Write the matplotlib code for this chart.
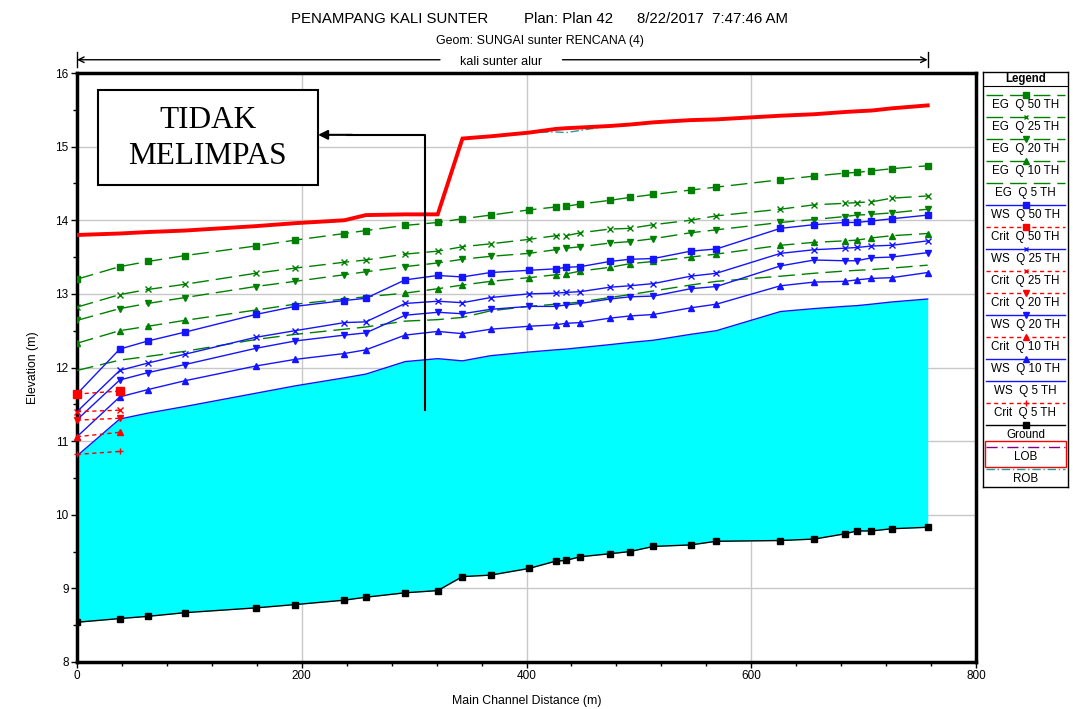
import numpy as np
import matplotlib
matplotlib.use('Agg')
import matplotlib.pyplot as plt
from matplotlib.patches import Rectangle

plt.rcParams['font.family'] = ['Liberation Sans', 'DejaVu Sans']

# main channel distance of each cross section (m)
station = [0, 38, 63, 96, 159, 194, 238, 257, 292, 321, 343, 368, 402, 426,
           435, 448, 474, 492, 513, 546, 569, 626, 656, 683, 694, 707, 725, 757]

ground = [8.54, 8.59, 8.62, 8.67, 8.735, 8.78, 8.84, 8.88, 8.94, 8.97, 9.16, 9.18,
          9.27, 9.37, 9.38, 9.43, 9.47, 9.50, 9.57, 9.59, 9.64, 9.65, 9.67, 9.74,
          9.78, 9.78, 9.81, 9.83]

ws_q5 = [10.80, 11.30, 11.38, 11.47, 11.65, 11.75, 11.86, 11.91, 12.08, 12.12, 12.09,
         12.16, 12.21, 12.24, 12.25, 12.27, 12.31, 12.34, 12.37, 12.45, 12.50, 12.76,
         12.80, 12.83, 12.84, 12.86, 12.89, 12.93]
ws_q10 = [11.06, 11.60, 11.70, 11.82, 12.02, 12.11, 12.19, 12.24, 12.44, 12.49, 12.46,
          12.52, 12.56, 12.58, 12.60, 12.61, 12.67, 12.70, 12.72, 12.81, 12.86, 13.11,
          13.16, 13.17, 13.19, 13.21, 13.22, 13.29]
ws_q20 = [11.29, 11.83, 11.93, 12.04, 12.26, 12.36, 12.44, 12.47, 12.71, 12.75, 12.73,
          12.79, 12.83, 12.83, 12.85, 12.87, 12.93, 12.96, 12.97, 13.07, 13.10, 13.38,
          13.46, 13.45, 13.45, 13.49, 13.50, 13.56]
ws_q25 = [11.40, 11.96, 12.06, 12.18, 12.41, 12.50, 12.61, 12.62, 12.87, 12.90, 12.88,
          12.95, 13.00, 13.01, 13.02, 13.03, 13.09, 13.11, 13.14, 13.24, 13.28, 13.55,
          13.60, 13.62, 13.63, 13.65, 13.66, 13.72]
ws_q50 = [11.64, 12.25, 12.36, 12.48, 12.72, 12.83, 12.91, 12.94, 13.19, 13.25, 13.23,
          13.29, 13.32, 13.34, 13.36, 13.37, 13.44, 13.47, 13.48, 13.58, 13.61, 13.89,
          13.94, 13.97, 13.97, 13.99, 14.02, 14.07]

eg_q5 = [11.96, 12.10, 12.15, 12.22, 12.38, 12.45, 12.52, 12.55, 12.63, 12.65, 12.68,
         12.77, 12.83, 12.86, 12.87, 12.89, 12.95, 12.99, 13.04, 13.12, 13.17, 13.24,
         13.28, 13.31, 13.32, 13.33, 13.35, 13.39]
eg_q10 = [12.33, 12.50, 12.56, 12.64, 12.78, 12.86, 12.93, 12.96, 13.01, 13.07, 13.12,
          13.17, 13.22, 13.26, 13.27, 13.31, 13.36, 13.41, 13.44, 13.50, 13.54, 13.66,
          13.70, 13.72, 13.73, 13.76, 13.79, 13.82]
eg_q20 = [12.64, 12.80, 12.87, 12.95, 13.10, 13.17, 13.26, 13.30, 13.37, 13.42, 13.47,
          13.51, 13.55, 13.60, 13.62, 13.64, 13.69, 13.71, 13.75, 13.83, 13.87, 13.97,
          14.01, 14.05, 14.07, 14.08, 14.10, 14.15]
eg_q25 = [12.82, 12.99, 13.06, 13.13, 13.28, 13.35, 13.43, 13.46, 13.54, 13.58, 13.64,
          13.68, 13.74, 13.79, 13.79, 13.83, 13.88, 13.89, 13.94, 14.00, 14.06, 14.15,
          14.21, 14.23, 14.24, 14.25, 14.30, 14.33]
eg_q50 = [13.20, 13.37, 13.44, 13.52, 13.65, 13.73, 13.82, 13.86, 13.93, 13.97, 14.02,
          14.07, 14.14, 14.18, 14.19, 14.22, 14.27, 14.31, 14.35, 14.41, 14.45, 14.55,
          14.60, 14.64, 14.65, 14.67, 14.70, 14.74]

lob = [13.80, 13.82, 13.84, 13.86, 13.92, 13.96, 14.00, 14.07, 14.08, 14.08, 15.11,
       15.14, 15.19, 15.24, 15.25, 15.26, 15.28, 15.30, 15.33, 15.36, 15.37, 15.42,
       15.44, 15.47, 15.48, 15.49, 15.52, 15.56]
rob = [13.80, 13.82, 13.84, 13.86, 13.92, 13.96, 14.00, 14.07, 14.08, 14.08, 15.11,
       15.14, 15.19, 15.20, 15.19, 15.22, 15.28, 15.30, 15.33, 15.36, 15.37, 15.42,
       15.44, 15.47, 15.48, 15.49, 15.52, 15.56]

# critical depth only computed at the two downstream sections
crit_station = [0, 38]
crit_q50 = [11.64, 11.68]
crit_q25 = [11.40, 11.42]
crit_q20 = [11.285, 11.31]
crit_q10 = [11.06, 11.12]
crit_q5 = [10.82, 10.86]

GREEN = '#008000'
BLUE = '#1414ff'
RED = '#ff0000'
EGDASH = (12, 5)

fig = plt.figure(figsize=(10.73, 7.09), dpi=100)
ax = fig.add_axes([77/1073, 1-662/709, (976-77)/1073, (662-73)/709])

ax.fill_between(station, ground, ws_q5, color='#00ffff', lw=0, zorder=1)

ax.plot(station, ground, color='black', lw=1, marker='s', ms=5, zorder=5)
ax.plot(station, ws_q5, color=BLUE, lw=1, zorder=4)

for vals, mk in [(ws_q50, 's'), (ws_q25, 'x'), (ws_q20, 'v'), (ws_q10, '^')]:
    ax.plot(station, vals, color=BLUE, lw=1, marker=mk, ms=5 if mk != 'x' else 4,
            mew=1, zorder=4)

for vals, mk in [(eg_q50, 's'), (eg_q25, 'x'), (eg_q20, 'v'), (eg_q10, '^'), (eg_q5, None)]:
    ax.plot(station, vals, color=GREEN, lw=1, dashes=EGDASH, marker=mk,
            ms=5 if mk != 'x' else 4, mew=1, zorder=3)

for vals, mk in [(crit_q50, 's'), (crit_q25, 'x'), (crit_q20, 'v'), (crit_q10, '^'), (crit_q5, '+')]:
    ax.plot(crit_station, vals, color=RED, lw=1, dashes=(3, 2.5), marker=mk,
            ms=5.5 if mk == 's' else 4.5, mew=1, zorder=6, clip_on=False)

ax.plot(station, rob, color='#20a0a0', lw=1, dashes=(6, 2, 1, 2), zorder=6)
ax.plot(station, lob, color=RED, lw=2.8, zorder=7, solid_joinstyle='miter')

ax.set_xlim(0, 800)
ax.set_ylim(8, 16)
ax.set_xticks([0, 200, 400, 600, 800])
ax.set_xticks(np.arange(0, 801, 40), minor=True)
ax.set_yticks(np.arange(8, 17, 1))
ax.set_yticks(np.arange(8, 16.01, 0.5), minor=True)
ax.grid(True, which='major', color='#c8c8c8', lw=1, zorder=0)
ax.set_axisbelow(True)
for s in ax.spines.values():
    s.set_linewidth(2.5)
ax.tick_params(which='major', direction='out', length=4, width=1, labelsize=8.5, pad=2)
ax.tick_params(which='minor', direction='out', length=3, width=1)
ax.set_xlabel('Main Channel Distance (m)', fontsize=8.8, labelpad=9)
ax.set_ylabel('Elevation (m)', fontsize=8.8, labelpad=12)

# reach label above plot
yy = 16.18
ax.annotate('', xy=(0, yy), xytext=(323, yy), xycoords='data',
            arrowprops=dict(arrowstyle='->', lw=1, color='black', shrinkA=0, shrinkB=0),
            annotation_clip=False)
ax.annotate('', xy=(757, yy), xytext=(432, yy), xycoords='data',
            arrowprops=dict(arrowstyle='->', lw=1, color='black', shrinkA=0, shrinkB=0),
            annotation_clip=False)
ax.plot([0, 0], [yy - 0.1, yy + 0.1], color='black', lw=1, clip_on=False)
ax.plot([757, 757], [yy - 0.1, yy + 0.1], color='black', lw=1, clip_on=False)
ax.text(377, yy - 0.03, 'kali sunter alur', ha='center', va='center', fontsize=9)

# annotation
ax.add_patch(Rectangle((18.7, 14.48), 214.5 - 18.7, 15.77 - 14.48, fill=True,
                       facecolor='white', edgecolor='black', lw=1.5, zorder=8))
ax.text(116.5, 15.36, 'TIDAK', ha='center', va='center', fontsize=22.5,
        family=['Liberation Serif', 'DejaVu Serif'], zorder=9)
ax.text(116.5, 14.86, 'MELIMPAS', ha='center', va='center', fontsize=22.5,
        family=['Liberation Serif', 'DejaVu Serif'], zorder=9)
ax.plot([309.7, 309.7, 240], [11.42, 15.16, 15.16], color='black', lw=1.5, zorder=9)
ax.annotate('', xy=(214.5, 15.16), xytext=(245, 15.16),
            arrowprops=dict(arrowstyle='-|>', lw=1.5, color='black', mutation_scale=14,
                            shrinkA=0, shrinkB=0), zorder=9)

# titles
fig.text(291/1073, 1-19/709, 'PENAMPANG KALI SUNTER', fontsize=10.8, va='center', ha='left')
fig.text(524/1073, 1-19/709, 'Plan: Plan 42', fontsize=10.8, va='center', ha='left')
fig.text(788/1073, 1-19/709, '8/22/2017  7:47:46 AM', fontsize=10.8, va='center', ha='right')
fig.text(540/1073, 1-41/709, 'Geom: SUNGAI sunter RENCANA (4)', fontsize=8.9,
         va='center', ha='center')

# legend panel
lg = fig.add_axes([983/1073, 1-487/709, 85/1073, 415/709])
lg.set_xlim(0, 85)
lg.set_ylim(415, 0)
lg.set_xticks([])
lg.set_yticks([])
for s in lg.spines.values():
    s.set_linewidth(1)
lg.text(42.5, 7, 'Legend', ha='center', va='center', fontsize=8.3, fontweight='bold')
lg.plot([0, 85], [13.5, 13.5], color='black', lw=0.8)

entries = [
    ('EG  Q 50 TH', GREEN, EGDASH, 's'),
    ('EG  Q 25 TH', GREEN, EGDASH, 'x'),
    ('EG  Q 20 TH', GREEN, EGDASH, 'v'),
    ('EG  Q 10 TH', GREEN, EGDASH, '^'),
    ('EG  Q 5 TH', GREEN, EGDASH, None),
    ('WS  Q 50 TH', BLUE, None, 's'),
    ('Crit  Q 50 TH', RED, (3, 2.5), 's'),
    ('WS  Q 25 TH', BLUE, None, 'x'),
    ('Crit  Q 25 TH', RED, (3, 2.5), 'x'),
    ('Crit  Q 20 TH', RED, (3, 2.5), 'v'),
    ('WS  Q 20 TH', BLUE, None, 'v'),
    ('Crit  Q 10 TH', RED, (3, 2.5), '^'),
    ('WS  Q 10 TH', BLUE, None, '^'),
    ('WS  Q 5 TH', BLUE, None, None),
    ('Crit  Q 5 TH', RED, (3, 2.5), '+'),
    ('Ground', 'black', None, 's'),
    ('LOB', '#800080', (8, 3, 1, 3), None),
    ('ROB', '#20a0a0', (6, 2, 1, 2), None),
]
for i, (lab, col, dsh, mk) in enumerate(entries):
    ly = 22.5 + 22 * i
    kw = dict(color=col, lw=1)
    if dsh is not None:
        kw['dashes'] = dsh
    lg.plot([3, 82], [ly, ly], **kw)
    if mk is not None:
        lg.plot([42.5], [ly], marker=mk, color=col, ms=4.5 if mk != 'x' else 3.5, mew=1)
    lg.text(42.5, ly + 10.5, lab, ha='center', va='center', fontsize=8.4)
lg.add_patch(Rectangle((2, 368.5), 81, 26, fill=False, edgecolor=RED, lw=1))

fig.savefig('out.png', dpi=100)
